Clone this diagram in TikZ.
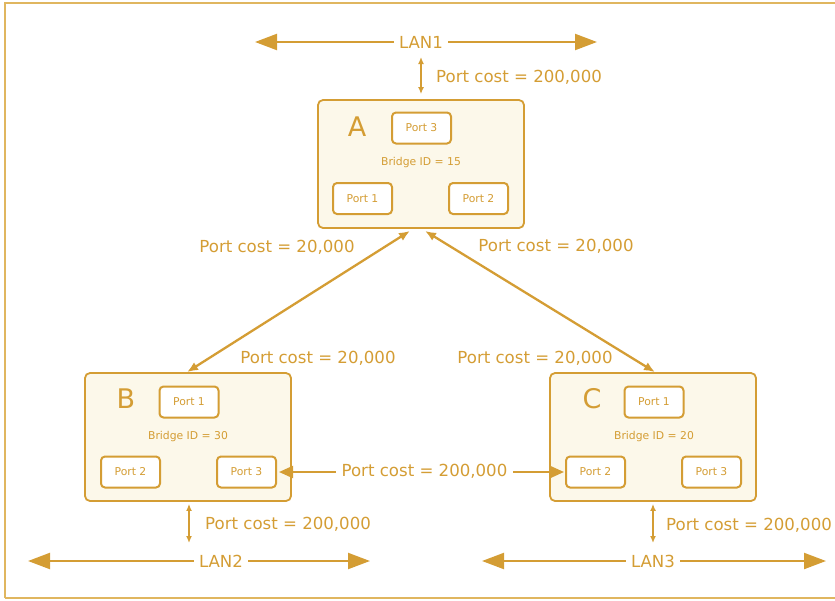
\documentclass[tikz,border=0pt]{standalone}
\usepackage{fontspec}
\setmainfont{DejaVu Sans}
\usetikzlibrary{arrows.meta}
\definecolor{gold}{RGB}{212,157,52}
\definecolor{goldframe}{RGB}{224,182,95}
\definecolor{cream}{RGB}{252,248,234}
\tikzset{
  bridge/.style={draw=gold, line width=1.8pt, fill=cream, rounded corners=5pt,
    minimum width=206pt, minimum height=128pt, inner sep=0pt},
  portbox/.style={draw=gold, line width=2pt, fill=white, rounded corners=4pt,
    minimum width=59pt, minimum height=31pt, inner sep=0pt, text=gold,
    font=\fontsize{10.8}{12}\selectfont},
  idlabel/.style={text=gold, font=\fontsize{10.8}{12}\selectfont},
  letter/.style={text=gold, font=\fontsize{27}{30}\selectfont},
  cost/.style={text=gold, font=\fontsize{16.6}{19}\selectfont, inner sep=1pt},
  lanlabel/.style={text=gold, fill=white, font=\fontsize{16.6}{19}\selectfont, inner xsep=5pt, inner ysep=1pt},
  lanline/.style={draw=gold, line width=2.2pt, {Triangle[length=22pt,width=16pt]}-{Triangle[length=22pt,width=16pt]}},
  link/.style={draw=gold, line width=2.3pt, {Latex[length=11pt,width=9pt]}-{Latex[length=11pt,width=9pt]}},
  drop/.style={draw=gold, line width=1.5pt, {Latex[length=7pt,width=6pt]}-{Latex[length=7pt,width=6pt]}},
  wire/.style={draw=gold, line width=2.2pt, {Triangle[length=14pt,width=12pt]}-{Triangle[length=14pt,width=12pt]}}
}
\begin{document}
\begin{tikzpicture}[x=1pt,y=-1pt]
\useasboundingbox (0,0) rectangle (835,600);
% outer frame
\draw[goldframe, line width=1.8pt] (5,598) -- (5,3) -- (845,3);
\draw[goldframe, line width=1.8pt] (5,598) -- (845,598);

% bridges
\node[bridge] (A) at (421,164) {};
\node[bridge] (B) at (188,437) {};
\node[bridge] (C) at (653,437) {};

% bridge A
\node[letter] (Aname) at (357,127) {A};
\node[portbox] (A3) at (421.5,128) {Port 3};
\node[idlabel] (Aid) at (421,163) {Bridge ID = 15};
\node[portbox] (A1) at (362.5,198.5) {Port 1};
\node[portbox] (A2) at (478.5,198.5) {Port 2};

% bridge B
\node[letter] (Bname) at (126,399) {B};
\node[portbox] (B1) at (189,402) {Port 1};
\node[idlabel] (Bid) at (188,437) {Bridge ID = 30};
\node[portbox] (B2) at (130.5,472) {Port 2};
\node[portbox] (B3) at (246.5,472) {Port 3};

% bridge C
\node[letter] (Cname) at (592,399) {C};
\node[portbox] (C1) at (654,402) {Port 1};
\node[idlabel] (Cid) at (654,437) {Bridge ID = 20};
\node[portbox] (C2) at (595.5,472) {Port 2};
\node[portbox] (C3) at (711.5,472) {Port 3};

% LAN segments
\coordinate (L1l) at (255,42);
\coordinate (L1r) at (597,42);
\coordinate (L2l) at (28,561);
\coordinate (L2r) at (370,561);
\coordinate (L3l) at (482,561);
\coordinate (L3r) at (826,561);
\draw[lanline] (L1l) -- (L1r);
\draw[lanline] (L2l) -- (L2r);
\draw[lanline] (L3l) -- (L3r);
\node[lanlabel] (LAN1) at (421,42) {LAN1};
\node[lanlabel] (LAN2) at (221,561) {LAN2};
\node[lanlabel] (LAN3) at (653,561) {LAN3};

% bridge-to-LAN attachments
\coordinate (L1a) at (421,57);
\coordinate (L2a) at (189,543);
\coordinate (L3a) at (653,543);
\draw[drop] (L1a) -- ([yshift=5pt]A.north);
\draw[drop] ([xshift=1pt,yshift=-2pt]B.south) -- (L2a);
\draw[drop] ([yshift=-2pt]C.south) -- (L3a);
\node[cost, anchor=west] (cA) at (435,77) {Port cost = 200,000};
\node[cost, anchor=west] (cB) at (204,524) {Port cost = 200,000};
\node[cost, anchor=west] (cC) at (665,525) {Port cost = 200,000};

% bridge-to-bridge links
\draw[link] ([xshift=-11pt,yshift=-2pt]A.south) -- ([xshift=-1pt]B.north);
\draw[link] ([xshift=4pt,yshift=-2pt]A.south) -- ([xshift=2pt]C.north);
\draw[wire] ([xshift=2pt]B3.east) -- ([xshift=-1pt]C2.west);
\node[cost, fill=white, inner xsep=6pt] (cBC) at (424.5,471) {Port cost = 200,000};

\node[cost] (cAB1) at (277,247) {Port cost = 20,000};
\node[cost] (cAC1) at (556,246) {Port cost = 20,000};
\node[cost] (cAB2) at (318,358) {Port cost = 20,000};
\node[cost] (cAC2) at (535,358) {Port cost = 20,000};
\end{tikzpicture}
\end{document}
